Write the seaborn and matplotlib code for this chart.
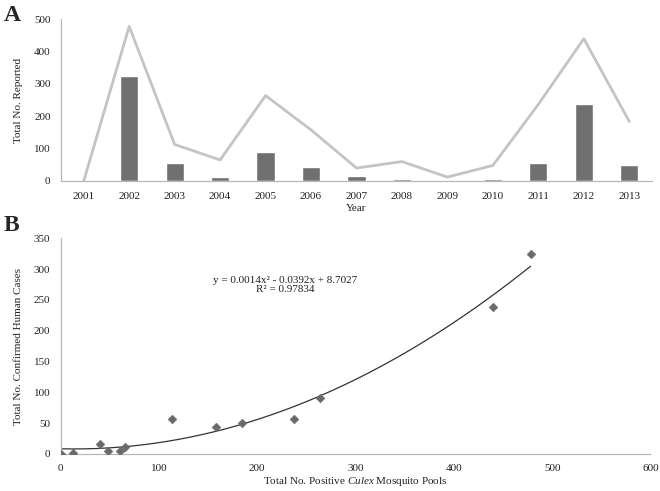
import matplotlib
matplotlib.use("Agg")
import matplotlib.pyplot as plt
import seaborn as sns
import numpy as np
import pandas as pd

# ----- Data -----
years = ["2001", "2002", "2003", "2004", "2005", "2006", "2007",
         "2008", "2009", "2010", "2011", "2012", "2013"]
human_cases = [0, 324, 56, 11, 91, 43, 16, 5, 2, 5, 57, 239, 50]
mosquito_pools = [0, 478, 113, 65, 264, 158, 40, 60, 12, 48, 237, 440, 184]

# ----- Style -----
sns.set_style("white")
plt.rcParams["font.family"] = ["Liberation Serif", "DejaVu Serif"]
plt.rcParams.update({
    "mathtext.fontset": "custom",
    "mathtext.rm": "Liberation Serif",
    "mathtext.it": "Liberation Serif:italic",
})
text_color = "#222222"
axis_color = "#b8b8b8"
bar_color = "#707070"
line_color = "#c4c4c4"
point_color = "#6a6a6a"
fs = 8

fig = plt.figure(figsize=(6.6, 4.91), dpi=100)
fig.patch.set_facecolor("white")


def style_axes(ax):
    for s in ["top", "right"]:
        ax.spines[s].set_visible(False)
    for s in ["left", "bottom"]:
        ax.spines[s].set_color(axis_color)
        ax.spines[s].set_linewidth(0.9)
    ax.tick_params(colors=axis_color, labelcolor=text_color, labelsize=fs,
                   length=4, width=0.8)


# ----- Panel A -----
ax1 = fig.add_axes([0.0924, 0.6314, 0.8955, 0.3293])
df_a = pd.DataFrame({"year": years, "cases": human_cases, "pools": mosquito_pools})
sns.barplot(data=df_a, x="year", y="cases", color=bar_color, width=0.4,
            saturation=1, ax=ax1)
sns.lineplot(x=np.arange(len(years)), y=mosquito_pools, color=line_color,
             linewidth=2, ax=ax1)
ax1.set_xlim(-0.5, len(years) - 0.5)
ax1.set_ylim(0, 500)
ax1.set_yticks(range(0, 501, 100))
ax1.set_xticks(np.arange(len(years)))
ax1.set_xticklabels(years)
ax1.set_xticks(np.arange(-0.5, len(years)), minor=True)
style_axes(ax1)
ax1.tick_params(axis="x", which="major", length=0, pad=8)
ax1.tick_params(axis="x", which="minor", length=4, color=axis_color)
ax1.set_xlabel("Year", fontsize=fs, color=text_color, labelpad=2)
ax1.set_ylabel("Total No. Reported", fontsize=fs, color=text_color, labelpad=8)
fig.text(0.006, 0.99, "A", fontsize=17, fontweight="bold", va="top")

# ----- Panel B -----
ax2 = fig.add_axes([0.092, 0.0754, 0.8936, 0.4393])
df_b = pd.DataFrame({"pools": mosquito_pools, "cases": human_cases})
sns.scatterplot(data=df_b, x="pools", y="cases", marker="D", s=20,
                color=point_color, edgecolor=point_color, ax=ax2, zorder=3)
coef = np.polyfit(mosquito_pools, human_cases, 2)
xs = np.linspace(0, max(mosquito_pools), 200)
ax2.plot(xs, np.polyval(coef, xs), color="#333333", linewidth=0.9)
ax2.set_xlim(0, 600)
ax2.set_ylim(0, 350)
ax2.set_xticks(range(0, 601, 100))
ax2.set_yticks(range(0, 351, 50))
style_axes(ax2)
ax2.tick_params(axis="x", pad=3)
ax2.set_xlabel("Total No. Positive $\\it{Culex}$ Mosquito Pools", fontsize=fs,
               color=text_color, labelpad=2)
ax2.set_ylabel("Total No. Confirmed Human Cases", fontsize=fs,
               color=text_color, labelpad=8)
ax2.text(228, 274, "y = 0.0014x² - 0.0392x + 8.7027\nR² = 0.97834",
         fontsize=fs, color=text_color, ha="center", va="center",
         linespacing=1.1)
fig.text(0.006, 0.562, "B", fontsize=17, fontweight="bold", va="top")

fig.savefig("out.png", dpi=100, facecolor="white")
